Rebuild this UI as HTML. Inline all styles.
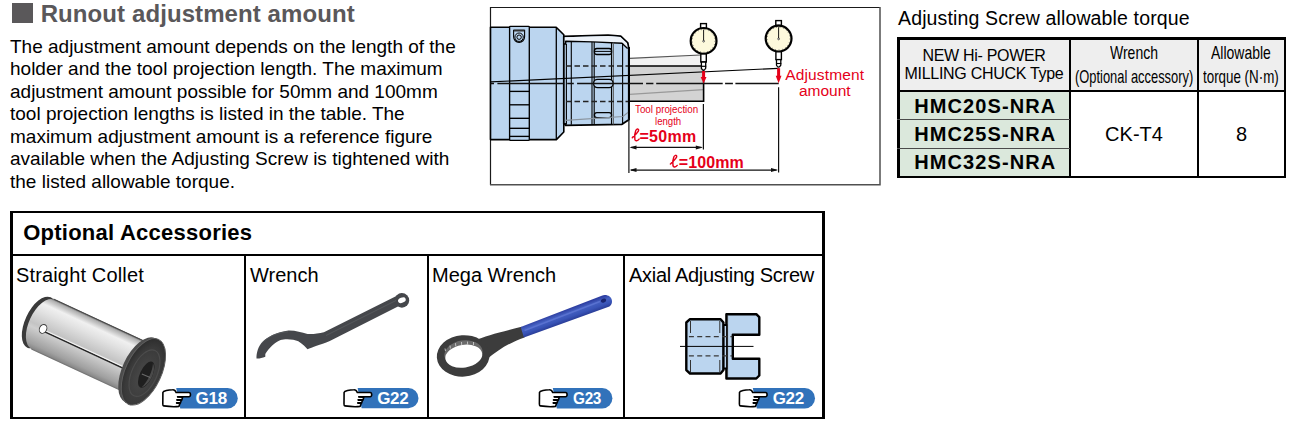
<!DOCTYPE html>
<html><head><meta charset="utf-8">
<style>
html,body{margin:0;padding:0;background:#fff;}
body{width:1309px;height:431px;overflow:hidden;position:relative;font-family:"Liberation Sans",sans-serif;color:#000;}
.a{position:absolute;white-space:nowrap;}
.ln{position:absolute;background:#000;}
.c{display:inline-block;transform-origin:50% 50%;}
.g{top:389.6px;font-size:17px;line-height:17px;font-weight:bold;color:#fff;letter-spacing:-0.3px;}
.hc{font-size:18.5px;line-height:23px;transform-origin:0 0;}
</style></head><body>

<!-- heading -->
<div class="a" style="left:12px;top:3px;width:21px;height:20px;background:#5a585a"></div>
<div class="a" style="left:40.7px;top:1.8px;font-size:24px;line-height:24px;font-weight:bold;color:#5a585a;letter-spacing:0.09px">Runout adjustment amount</div>

<!-- paragraph -->
<div class="a" style="left:10px;top:35.85px;font-size:19px;line-height:22.52px;">The adjustment amount depends on the length of the<br>holder and the tool projection length. The maximum<br>adjustment amount possible for 50mm and 100mm<br>tool projection lengths is listed in the table. The<br>maximum adjustment amount is a reference figure<br>available when the Adjusting Screw is tightened with<br>the listed allowable torque.</div>

<!-- right table -->
<div class="a" style="left:898px;top:7.5px;font-size:19.5px;line-height:20px;letter-spacing:0.14px">Adjusting Screw allowable torque</div>

<div class="a" style="left:898px;top:38px;width:172px;height:53px;background:#eeeeee"></div>
<div class="a" style="left:1070px;top:38px;width:214px;height:53px;background:#eeeeee"></div>
<div class="a" style="left:898px;top:91px;width:172px;height:86px;background:#dbe8dc"></div>

<div class="a" style="left:898px;top:46.6px;width:172px;text-align:center;font-size:16px;line-height:18.8px;letter-spacing:-0.3px;">NEW Hi- POWER<br>MILLING CHUCK Type</div>

<div class="a hc" style="left:1110.1px;top:40.9px;transform:scaleX(0.756)">Wrench</div>
<div class="a hc" style="left:1074.6px;top:65.1px;transform:scaleX(0.697)">(Optional accessory)</div>
<div class="a hc" style="left:1210.9px;top:40.9px;transform:scaleX(0.755)">Allowable</div>
<div class="a hc" style="left:1203.2px;top:65.1px;transform:scaleX(0.722)">torque (N·m)</div>

<div class="a" style="left:899.3px;top:95.5px;width:172px;text-align:center;font-size:20px;line-height:20px;font-weight:bold;letter-spacing:1.1px">HMC20S-NRA</div>
<div class="a" style="left:899.3px;top:124px;width:172px;text-align:center;font-size:20px;line-height:20px;font-weight:bold;letter-spacing:1.1px">HMC25S-NRA</div>
<div class="a" style="left:899.3px;top:151.7px;width:172px;text-align:center;font-size:20px;line-height:20px;font-weight:bold;letter-spacing:1.1px">HMC32S-NRA</div>
<div class="a" style="left:1070px;top:123.8px;width:128px;text-align:center;font-size:20px;line-height:20px;">CK-T4</div>
<div class="a" style="left:1198px;top:123.8px;width:87px;text-align:center;font-size:20px;line-height:20px;">8</div>

<!-- table lines -->
<div class="ln" style="left:897px;top:37px;width:389px;height:2.5px"></div>
<div class="ln" style="left:897px;top:175.5px;width:389px;height:2.5px"></div>
<div class="ln" style="left:897px;top:37px;width:2.5px;height:141px"></div>
<div class="ln" style="left:1283.5px;top:37px;width:2.5px;height:141px"></div>
<div class="ln" style="left:1069.3px;top:37px;width:1.7px;height:141px"></div>
<div class="ln" style="left:1197.2px;top:37px;width:1.7px;height:141px"></div>
<div class="ln" style="left:897px;top:90px;width:389px;height:2px"></div>
<div class="ln" style="left:897px;top:119px;width:173px;height:1.4px;background:#4a4a4a"></div>
<div class="ln" style="left:897px;top:147.5px;width:173px;height:1.4px;background:#4a4a4a"></div>

<!-- accessories -->
<div class="a" style="left:23.2px;top:221.9px;font-size:22px;line-height:22px;font-weight:bold;letter-spacing:0.25px">Optional Accessories</div>
<div class="a" style="left:16px;top:264.8px;font-size:20px;line-height:20px;letter-spacing:0.15px">Straight Collet</div>
<div class="a" style="left:250px;top:264.8px;font-size:20px;line-height:20px;">Wrench</div>
<div class="a" style="left:432px;top:264.8px;font-size:20px;line-height:20px;">Mega Wrench</div>
<div class="a" style="left:629px;top:264.8px;font-size:20px;line-height:20px;letter-spacing:-0.3px">Axial Adjusting Screw</div>

<div class="ln" style="left:10.3px;top:211px;width:814.5px;height:2.4px"></div>
<div class="ln" style="left:10.3px;top:416.5px;width:814.5px;height:2.4px"></div>
<div class="ln" style="left:10.3px;top:211px;width:2.4px;height:208px"></div>
<div class="ln" style="left:822.4px;top:211px;width:2.4px;height:208px"></div>
<div class="ln" style="left:10.3px;top:253.8px;width:814.5px;height:2px"></div>
<div class="ln" style="left:244.1px;top:254px;width:2.3px;height:164px"></div>
<div class="ln" style="left:427.2px;top:254px;width:2.3px;height:164px"></div>
<div class="ln" style="left:622.9px;top:254px;width:2.3px;height:164px"></div>

<svg class="a" style="left:0;top:0" width="1309" height="431" viewBox="0 0 1309 431">
<defs>
<linearGradient id="gCol" x1="0" y1="0" x2="0" y2="1">
<stop offset="0" stop-color="#6d6d6d"/><stop offset="0.12" stop-color="#b9b9b9"/><stop offset="0.3" stop-color="#ececec"/><stop offset="0.45" stop-color="#d9d9d9"/><stop offset="0.7" stop-color="#a9a9a9"/><stop offset="0.88" stop-color="#c4c4c4"/><stop offset="1" stop-color="#7a7a7a"/>
</linearGradient>

</defs>

<!-- ===== diagram ===== -->
<path d="M490.5,185 V7.5 H880" fill="none" stroke="#1a1a1a" stroke-width="1.2"/><path d="M880,7 V184.8 H490" fill="none" stroke="#505050" stroke-width="1.5"/>
<!-- holder -->
<path d="M490.5,27.2 H556.2 L563.8,34.8 V132 L556.4,139.6 H490.5 Z" fill="#bbd5ef" stroke="#000" stroke-width="1.6" stroke-linejoin="round"/>
<line x1="556.3" y1="27.5" x2="556.3" y2="139.4" stroke="#000" stroke-width="1.3"/>
<rect x="509.6" y="26.4" width="19.7" height="114" rx="0.8" fill="#bbd5ef" stroke="#000" stroke-width="1.35"/>
<g stroke="#000" stroke-width="1.35">
<line x1="509.6" y1="91.4" x2="529.3" y2="91.4"/>
<line x1="509.6" y1="104.8" x2="529.3" y2="104.8"/>
<line x1="509.6" y1="118.3" x2="529.3" y2="118.3"/>
<line x1="509.6" y1="128.3" x2="529.3" y2="128.3"/>
<line x1="509.6" y1="136.4" x2="529.3" y2="136.4"/>
</g>
<path d="M513.6,30.2 H524.6 V36.8 A5.5,5.6 0 0 1 513.6,36.8 Z" fill="none" stroke="#000" stroke-width="1.1"/>
<rect x="513.8" y="29.6" width="10.6" height="1.9" fill="#333"/>
<circle cx="519.1" cy="37.2" r="4.2" fill="none" stroke="#000" stroke-width="1"/>
<circle cx="519.1" cy="37.2" r="2.2" fill="none" stroke="#000" stroke-width="1"/>

<!-- nut -->
<path d="M563.8,36.4 L590.7,35.7 L608.1,35.2 L620.7,36.2 L627.8,42.8 L628.8,49 L628.8,119.7 L622,124.3 L565.4,125.3 L565.4,124 L563.8,124 Z" fill="#bbd5ef" stroke="#000" stroke-width="1.8" stroke-linejoin="round"/>
<path d="M564.8,37.2 L590.7,36.6 L608.1,36.1 L620.3,37.1 L627,43.2 L627.6,48.2 L622,43.3 L592.8,41.9 L565.6,41.3 L565.6,44 L564.8,44 Z" fill="#eef3f9"/>
<path d="M563.8,44 H565.7 V41.3 L592.8,41.9 L622,43.3 L627.6,48.4" fill="none" stroke="#000" stroke-width="1.4" stroke-linejoin="round"/>
<g stroke="#000" stroke-width="1.1">
<line x1="566.4" y1="44" x2="566.4" y2="124.5"/>
<line x1="571.3" y1="41.5" x2="571.3" y2="124.8"/>
<line x1="592" y1="42" x2="592" y2="124.6"/>
<line x1="594.2" y1="42" x2="594.2" y2="124.6"/>
<line x1="611.5" y1="42.5" x2="611.5" y2="124.4"/>
<line x1="613.3" y1="42.5" x2="613.3" y2="124.4" stroke="#555"/>
<line x1="622.6" y1="43.3" x2="622.6" y2="124.2"/>
</g>
<g fill="#bbd5ef" stroke="#000" stroke-width="1.3">
<rect x="594.4" y="48.5" width="17.2" height="6" rx="2.5"/>
<rect x="593.6" y="79.4" width="19.5" height="8.2" rx="4"/>
<rect x="594.4" y="112.6" width="17.2" height="5" rx="2.5"/>
</g>
<line x1="594.6" y1="51.4" x2="611.4" y2="51.4" stroke="#000" stroke-width="1"/>
<!-- nut ghost line -->
<path d="M565.5,120.4 L623,116.5 L628.5,112" fill="none" stroke="#8a949e" stroke-width="1.1"/>
<!-- bore dashed lines -->
<g stroke="#222" stroke-width="1.3" stroke-dasharray="5.5,3">
<line x1="566" y1="66" x2="629" y2="66"/>
<line x1="566" y1="101.5" x2="629" y2="101.5"/>
</g>

<!-- tool -->
<path d="M629.5,58.4 L700.4,55 L700.4,66 L629.5,66 Z" fill="#f2f2f2"/>
<line x1="629.5" y1="58.4" x2="700.4" y2="55" stroke="#555" stroke-width="1.1"/>
<rect x="629.5" y="66" width="74.1" height="35.3" fill="#d3d3d3"/>
<path d="M629.5,94.3 L703.5,89.6" stroke="#999" stroke-width="1.3"/>
<path d="M629.5,66 H703.6 V101.3 H629.5" fill="none" stroke="#000" stroke-width="1.6"/>
<line x1="629" y1="47" x2="629" y2="120" stroke="#000" stroke-width="2"/>

<!-- center dash-dot line -->
<path d="M490.5,83.5 H494 M497.4,83.5 H563.4 M567.2,83.5 H573.8 M577.1,83.5 H643 M646.1,83.5 H653.4 M656.2,83.5 H722.7 M725.1,83.5 H732.9 M735.4,83.5 H778.7" stroke="#111" stroke-width="1.3"/>
<!-- tilted line -->
<line x1="490.5" y1="81.9" x2="778.4" y2="68.3" stroke="#000" stroke-width="1.2"/>

<!-- indicator 1 -->
<g>
<rect x="700.6" y="23.6" width="5.8" height="5" fill="#fff" stroke="#000" stroke-width="1.4"/>
<circle cx="703.6" cy="40.9" r="12.9" fill="#fdf9dc" stroke="#000" stroke-width="2.2"/>
<circle cx="703.6" cy="40.9" r="11.4" fill="none" stroke="#444" stroke-width="0.9" stroke-dasharray="0.8,2.6"/>
<line x1="703.6" y1="41" x2="703.6" y2="29.5" stroke="#000" stroke-width="0.9"/>
<circle cx="703.6" cy="41.2" r="0.9" fill="#fff" stroke="#000" stroke-width="0.6"/>
<rect x="700.8" y="54" width="5.5" height="8" fill="#fff" stroke="#000" stroke-width="1.4"/>
<path d="M701.4,62 L705.7,62 L705.7,68.3 Q703.6,72 701.4,68.3 Z" fill="#fff" stroke="#000" stroke-width="1.3"/>
<line x1="701" y1="66.3" x2="706.2" y2="66.3" stroke="#000" stroke-width="1.2"/>
</g>
<!-- indicator 2 -->
<g>
<rect x="775.8" y="20.6" width="5.6" height="4.8" fill="#fff" stroke="#000" stroke-width="1.4"/>
<circle cx="778.6" cy="38.6" r="12.9" fill="#fdf9dc" stroke="#000" stroke-width="2.2"/>
<circle cx="778.6" cy="38.6" r="11.4" fill="none" stroke="#444" stroke-width="0.9" stroke-dasharray="0.8,2.6"/>
<line x1="778.6" y1="38.7" x2="778.6" y2="27.2" stroke="#000" stroke-width="0.9"/>
<circle cx="778.6" cy="38.9" r="0.9" fill="#fff" stroke="#000" stroke-width="0.6"/>
<rect x="775.9" y="51.8" width="5.5" height="7.8" fill="#fff" stroke="#000" stroke-width="1.4"/>
<path d="M776.5,59.6 L780.8,59.6 L780.8,65.2 Q778.6,68.9 776.5,65.2 Z" fill="#fff" stroke="#000" stroke-width="1.3"/>
<line x1="776" y1="63.5" x2="781.3" y2="63.5" stroke="#000" stroke-width="1.1"/>
</g>
<!-- red arrows -->
<g fill="#e50019">
<rect x="702.1" y="71" width="3" height="7"/>
<path d="M700.7,77 L706.5,77 L703.6,83.4 Z"/>
<rect x="777.1" y="68.2" width="3" height="8.2"/>
<path d="M775.7,75.8 L781.5,75.8 L778.6,83.2 Z"/>
</g>

<!-- dimension lines -->
<g stroke="#111" stroke-width="1.2">
<line x1="628.9" y1="118.5" x2="628.9" y2="173"/>
<line x1="703.4" y1="104" x2="703.4" y2="149.4"/>
<line x1="778.6" y1="87.2" x2="778.6" y2="172.5"/>
<line x1="631" y1="147.4" x2="701.5" y2="147.4"/>
<line x1="631" y1="170.1" x2="776.5" y2="170.1"/>
</g>
<g fill="#111">
<path d="M629.5,147.4 L636.5,145.4 L636.5,149.4 Z"/>
<path d="M702.8,147.4 L695.8,145.4 L695.8,149.4 Z"/>
<path d="M629.5,170.1 L636.5,168.1 L636.5,172.1 Z"/>
<path d="M778,170.1 L771,168.1 L771,172.1 Z"/>
</g>
<!-- script l -->
<g fill="none" stroke="#e50019" stroke-width="1.45" stroke-linecap="round">
<path d="M632.3,137.7 C634.4,135.7 638.7,131.7 638.6,130.2 C638.5,128.5 636.5,128.7 635.7,130.7 C634.7,133.2 634.4,137.2 634.9,139.5 C635.4,141.5 637.7,140.9 639.1,139.1"/>
<path d="M670.4,164 C672.5,162 676.8,158 676.7,156.5 C676.6,154.8 674.6,155 673.8,157 C672.8,159.5 672.5,163.5 673,165.8 C673.5,167.8 675.8,167.2 677.2,165.4"/>
</g>
</svg>

<!-- diagram texts -->
<div class="a" style="left:785.2px;top:67.2px;font-size:15.5px;line-height:16px;color:#e50019;letter-spacing:0.15px">Adjustment</div>
<div class="a" style="left:798.9px;top:82.6px;font-size:15.5px;line-height:16px;color:#e50019">amount</div>
<div class="a" style="left:635.3px;top:103.4px;font-size:11.5px;line-height:12px;color:#e50019;transform:scaleX(0.852);transform-origin:0 0">Tool projection</div>
<div class="a" style="left:655.3px;top:115.3px;font-size:11.5px;line-height:12px;color:#e50019;transform:scaleX(0.836);transform-origin:0 0">length</div>
<div class="a" style="left:639.4px;top:128.5px;font-size:16px;line-height:16px;color:#e50019;font-weight:bold;letter-spacing:0.3px">=50mm</div>
<div class="a" style="left:678.7px;top:154.8px;font-size:16px;line-height:16px;color:#e50019;font-weight:bold;letter-spacing:0.1px">=100mm</div>
<svg class="a" style="left:0;top:0" width="1309" height="431" viewBox="0 0 1309 431">
<defs>
<linearGradient id="gBody" x1="0" y1="-27.75" x2="0" y2="27.75" gradientUnits="userSpaceOnUse">
<stop offset="0" stop-color="#5a5a5a"/><stop offset="0.04" stop-color="#b0b0b0"/><stop offset="0.16" stop-color="#f0f0f0"/><stop offset="0.3" stop-color="#e2e2e2"/><stop offset="0.55" stop-color="#c4c4c4"/><stop offset="0.62" stop-color="#cfcfcf"/><stop offset="0.78" stop-color="#b4b4b4"/><stop offset="0.9" stop-color="#a0a0a0"/><stop offset="0.97" stop-color="#8a8a8a"/><stop offset="1" stop-color="#6a6a6a"/>
</linearGradient>
<radialGradient id="gFace" cx="0.55" cy="0.55" r="0.6">
<stop offset="0" stop-color="#4a4a4a"/><stop offset="0.7" stop-color="#3a3a3a"/><stop offset="1" stop-color="#2a2a2a"/>
</radialGradient>
<linearGradient id="gBlue" x1="560" y1="312" x2="564.3" y2="323.8" gradientUnits="userSpaceOnUse">
<stop offset="0" stop-color="#2e3fa2"/><stop offset="0.3" stop-color="#4561c2"/><stop offset="0.65" stop-color="#3853b6"/><stop offset="1" stop-color="#26378f"/>
</linearGradient>
</defs>

<!-- ===== straight collet ===== -->
<g transform="translate(39,322.5) rotate(24.9)">
<ellipse cx="0" cy="0" rx="13.9" ry="27.75" fill="#3a3a3a"/>
<ellipse cx="4.3" cy="0" rx="13.9" ry="27.2" fill="url(#gBody)"/>
<rect x="4.3" y="-27.75" width="109" height="55.5" fill="url(#gBody)"/>
<line x1="3.2" y1="-27.4" x2="113" y2="-27.4" stroke="#4a4a4a" stroke-width="0.9"/>
<line x1="8" y1="6" x2="110" y2="6" stroke="#262626" stroke-width="1.4"/>
<line x1="8" y1="4.6" x2="110" y2="4.6" stroke="#f6f6f6" stroke-width="0.9"/>
<ellipse cx="6.4" cy="4.1" rx="3.6" ry="4.6" fill="#fff" stroke="#3a3a3a" stroke-width="0.9"/>
<!-- flange -->
<ellipse cx="112" cy="0.7" rx="17.9" ry="35.4" fill="#4c4c4c"/>
<rect x="112" y="-34.7" width="3.45" height="70.8" fill="#4c4c4c"/>
<ellipse cx="115.45" cy="0.76" rx="17.95" ry="35.7" fill="url(#gFace)" stroke="#5e5e5e" stroke-width="1"/>
<ellipse cx="117" cy="1.5" rx="12.5" ry="25" fill="none" stroke="#4c4c4c" stroke-width="1.2"/>
<ellipse cx="119.2" cy="2.1" rx="6.3" ry="14.1" fill="#1f1f1f"/>
<path d="M120.5,-11 C127,-6 127,10 120.5,15.5 C123.5,8 123.5,-4 120.5,-11 Z" fill="#4a4a4a"/>
<path d="M115,3.5 L124,3" stroke="#6a6a6a" stroke-width="1.1"/>
</g>

<!-- ===== hook wrench ===== -->
<g fill="#45474b">
<path d="M256.5,358.5 C256.3,353 258.5,345.5 263,341.3 C267,337.5 276,332 287.1,330.7 C294,330 301,332.5 307.5,333.9 C311,334.5 318,333.8 323.9,332.3 L401.9,293.3 L401.9,304.6 L329.8,340.9 C320,345 312,347 307.5,349.2 C305.5,347 303,344.5 298.3,341.3 C294,339 285,338.5 280.6,340 C275,342 269,348 265.3,353.9 L265.3,356.7 C262,358 259,358.8 256.5,358.5 Z"/>
<circle cx="401.9" cy="300.4" r="7.3"/>
</g>
<path d="M326,335.5 L396,300.5" stroke="#56595c" stroke-width="1"/>
<path d="M262,343 C268,336.5 278,332.3 288,331.8" stroke="#56595c" stroke-width="0.9" fill="none"/>
<ellipse cx="401.9" cy="300.2" rx="4" ry="2.6" transform="rotate(-22 401.9 300.2)" fill="#fff"/>
<!-- ===== mega wrench ===== -->
<path d="M474,341 C486,335.5 500,332.5 521.5,326.8 L524.5,337.4 C511,342 499,349 486,360 Z" fill="#3c3c3c"/>
<path d="M520.7,327 L601.7,295.7 C606,294 611.5,296 612,301 C612.3,304 610.5,305.8 609.4,306.6 L523.9,337.4 Z" fill="url(#gBlue)"/>
<path d="M524.5,330.5 L600,301.5" stroke="#5c74d2" stroke-width="1.4" opacity="0.9"/>
<ellipse cx="603.5" cy="300.6" rx="2.8" ry="1.9" transform="rotate(-20 603.5 300.6)" fill="#1a2570"/>
<ellipse cx="463.2" cy="355.9" rx="26.4" ry="20.7" transform="rotate(-4 463.2 355.9)" fill="#3c3c3c"/>
<ellipse cx="463.5" cy="353.6" rx="19.3" ry="13.2" transform="rotate(-9 463.5 353.6)" fill="#6a6a6a"/>
<ellipse cx="463.8" cy="356.2" rx="18.6" ry="11.4" transform="rotate(-9 463.8 356.2)" fill="#fff"/>
<g stroke="#d8d8d8" stroke-width="0.8">
<line x1="450" y1="345.5" x2="450.4" y2="348.5"/><line x1="455.5" y1="343.2" x2="455.8" y2="346.3"/><line x1="461.5" y1="342" x2="461.7" y2="345"/><line x1="467.5" y1="341.6" x2="467.6" y2="344.6"/><line x1="473.5" y1="342" x2="473.5" y2="345"/><line x1="445" y1="348.5" x2="445.5" y2="351"/>
</g>

<!-- ===== axial adjusting screw ===== -->
<g stroke="#000" stroke-linejoin="round">
<path d="M726.4,314.2 H756.3 L759.3,317.2 V334.7 H732.8 V358.8 H759.3 V375.5 L756.3,378.5 H726.4 Z" fill="#bbd5ef" stroke-width="2.4"/>
<path d="M721.5,325 H727 V368.5 H721.5 Z" fill="#bbd5ef" stroke-width="1.8"/>
<path d="M690,319.2 H720.6 L723.4,322.5 V370.1 L720.6,373.5 H690 L686.3,370.1 V322.5 Z" fill="#bbd5ef" stroke-width="2.4"/>
</g>
<line x1="723.4" y1="323" x2="723.4" y2="370" stroke="#000" stroke-width="1.2"/>
<line x1="727.6" y1="316" x2="727.6" y2="377" stroke="#333" stroke-width="0.8"/>
<g stroke="#333" stroke-width="1">
<line x1="690.5" y1="321" x2="690.5" y2="333"/><line x1="690.5" y1="360" x2="690.5" y2="372"/>
<line x1="719.8" y1="321" x2="719.8" y2="333"/><line x1="719.8" y1="360" x2="719.8" y2="372"/>
</g>
<g stroke="#3a3a3a" stroke-width="1.3" stroke-dasharray="5,3.3">
<line x1="688.9" y1="336.7" x2="732.3" y2="336.7"/>
<line x1="688.9" y1="355.9" x2="732.3" y2="355.9"/>
</g>
<line x1="680" y1="346.4" x2="753.5" y2="346.4" stroke="#000" stroke-width="1"/>

<!-- ===== badges ===== -->
<g fill="#3172ba">
<path d="M176.2,388.1 H227.6 A10.15,10.15 0 0 1 227.6,408.4 H180.2 Z"/>
<path d="M357.6,388.1 H408.4 A10.1,10.1 0 0 1 408.4,408.3 H361.6 Z"/>
<path d="M552.8,388 H602.2 A10.2,10.2 0 0 1 602.2,408.4 H556.8 Z"/>
<path d="M752.8,388 H804.8 A10.2,10.2 0 0 1 804.8,408.4 H756.8 Z"/>
</g>
<g transform="translate(160.0,386.6)"><path d="M2.9,5.8 C3.2,4.4 8.5,3.2 12.6,3.1 C14.3,3 15.3,3.8 16.1,5.9 L28.9,5.9 C31,5.9 31,10.2 28.9,10.2 L17.6,10.2 L22.6,10.7 L21.8,13.3 L16.9,13.3 L21.2,13.8 L20.4,16.3 L16.6,16.3 L19.9,16.8 L18.9,19.8 C14.5,20.4 8,19.9 3.7,19.3 C2.9,19.2 2.8,18.3 2.8,17.3 Z" fill="#fff" stroke="#000" stroke-width="1.6" stroke-linejoin="round"/><path d="M17.2,10.5 H22.3 M16.8,13.6 H21.4 M16.4,16.6 H20.3" stroke="#000" stroke-width="1.5" fill="none"/></g>
<g transform="translate(341.2,386.6)"><path d="M2.9,5.8 C3.2,4.4 8.5,3.2 12.6,3.1 C14.3,3 15.3,3.8 16.1,5.9 L28.9,5.9 C31,5.9 31,10.2 28.9,10.2 L17.6,10.2 L22.6,10.7 L21.8,13.3 L16.9,13.3 L21.2,13.8 L20.4,16.3 L16.6,16.3 L19.9,16.8 L18.9,19.8 C14.5,20.4 8,19.9 3.7,19.3 C2.9,19.2 2.8,18.3 2.8,17.3 Z" fill="#fff" stroke="#000" stroke-width="1.6" stroke-linejoin="round"/><path d="M17.2,10.5 H22.3 M16.8,13.6 H21.4 M16.4,16.6 H20.3" stroke="#000" stroke-width="1.5" fill="none"/></g>
<g transform="translate(536.6,386.6)"><path d="M2.9,5.8 C3.2,4.4 8.5,3.2 12.6,3.1 C14.3,3 15.3,3.8 16.1,5.9 L28.9,5.9 C31,5.9 31,10.2 28.9,10.2 L17.6,10.2 L22.6,10.7 L21.8,13.3 L16.9,13.3 L21.2,13.8 L20.4,16.3 L16.6,16.3 L19.9,16.8 L18.9,19.8 C14.5,20.4 8,19.9 3.7,19.3 C2.9,19.2 2.8,18.3 2.8,17.3 Z" fill="#fff" stroke="#000" stroke-width="1.6" stroke-linejoin="round"/><path d="M17.2,10.5 H22.3 M16.8,13.6 H21.4 M16.4,16.6 H20.3" stroke="#000" stroke-width="1.5" fill="none"/></g>
<g transform="translate(736.6,386.6)"><path d="M2.9,5.8 C3.2,4.4 8.5,3.2 12.6,3.1 C14.3,3 15.3,3.8 16.1,5.9 L28.9,5.9 C31,5.9 31,10.2 28.9,10.2 L17.6,10.2 L22.6,10.7 L21.8,13.3 L16.9,13.3 L21.2,13.8 L20.4,16.3 L16.6,16.3 L19.9,16.8 L18.9,19.8 C14.5,20.4 8,19.9 3.7,19.3 C2.9,19.2 2.8,18.3 2.8,17.3 Z" fill="#fff" stroke="#000" stroke-width="1.6" stroke-linejoin="round"/><path d="M17.2,10.5 H22.3 M16.8,13.6 H21.4 M16.4,16.6 H20.3" stroke="#000" stroke-width="1.5" fill="none"/></g>
</svg>
<div class="a g" style="left:195.6px">G18</div>
<div class="a g" style="left:377.2px">G22</div>
<div class="a g" style="left:572.9px;letter-spacing:-0.3px;transform:scaleX(0.9);transform-origin:0 0">G23</div>
<div class="a g" style="left:772.7px">G22</div>

</body></html>
